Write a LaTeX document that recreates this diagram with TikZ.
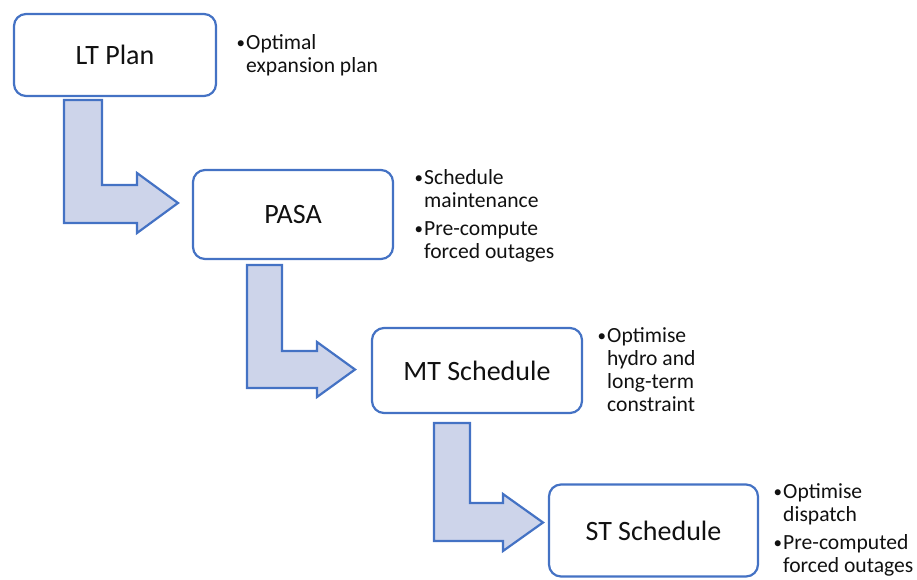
\documentclass[tikz,border=0pt]{standalone}
\usepackage{fontspec}
\setmainfont{Carlito}
\definecolor{boxblue}{HTML}{4472C4}
\definecolor{arrowfill}{HTML}{CDD4EA}
\definecolor{txt}{HTML}{111111}
\newcommand{\blt}{\makebox[9.5pt][l]{\fontsize{17pt}{17pt}\selectfont\raisebox{1pt}{•}}}
\newcommand{\ind}{\hspace*{9.5pt}}
\newcommand{\notetext}[1]{\parbox[t]{200pt}{\fontsize{21.6pt}{23pt}\selectfont\raggedright #1}}
\begin{document}
\begin{tikzpicture}[x=1pt,y=-1pt,
  stagebox/.style={draw=boxblue, line width=2.2pt, fill=white, rounded corners=12pt,
    text=txt, font=\fontsize{28pt}{33pt}\selectfont, inner sep=0pt},
  bentarrow/.style={draw=boxblue, line width=2.2pt, fill=arrowfill, line join=miter},
  note/.style={anchor=base west, inner sep=0pt, text=txt}]
\useasboundingbox (0,0) rectangle (917,579);

% stage boxes
\node[stagebox, minimum width=202pt, minimum height=82pt] (lt) at (115,55) {LT Plan};
\node[stagebox, minimum width=200pt, minimum height=89pt] (pasa) at (293,214.5) {PASA};
\node[stagebox, minimum width=210pt, minimum height=85pt] (mt) at (477,370.5) {MT Schedule};
\node[stagebox, minimum width=209pt, minimum height=92pt] (st) at (653.5,530.5) {ST Schedule};

% bent block arrows
\draw[bentarrow] (64,100) -- (102,100) -- (102,185) -- (137,185) -- (137,173)
  -- (178,203) -- (137,233) -- (137,223) -- (64,223) -- cycle;
\draw[bentarrow] (247,265) -- (282,265) -- (282,351) -- (317,351) -- (317,342)
  -- (355,369.5) -- (317,397) -- (317,388) -- (247,388) -- cycle;
\draw[bentarrow] (434,423) -- (470,423) -- (470,503) -- (503,503) -- (503,494)
  -- (543,522.5) -- (503,551) -- (503,541) -- (434,541) -- cycle;

% notes
\node[note] (ltn) at (236.5,49) {\notetext{\blt Optimal\\ \ind expansion plan}};
\node[note] (pasan) at (414.5,184) {\notetext{\blt Schedule\\ \ind maintenance\\[5pt] \blt Pre-compute\\ \ind forced outages}};
\node[note] (mtn) at (597.5,342) {\notetext{\blt Optimise\\ \ind hydro and\\ \ind long-term\\ \ind constraint}};
\node[note] (stn) at (773.5,498) {\notetext{\blt Optimise\\ \ind dispatch\\[5pt] \blt Pre-computed\\ \ind forced outages}};
\end{tikzpicture}
\end{document}
